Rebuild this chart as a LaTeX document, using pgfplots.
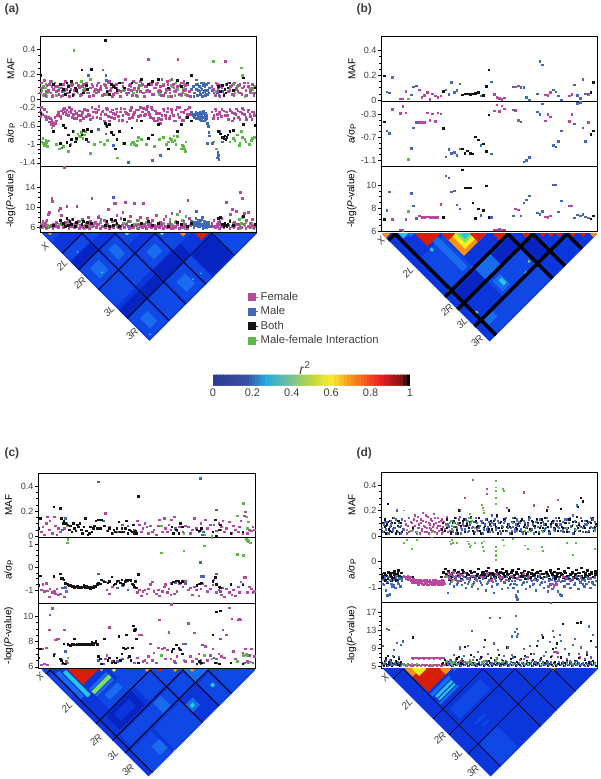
\documentclass[border=0pt]{standalone}
\usepackage{pgfplots}
\pgfplotsset{compat=1.18}
\usepackage{pgfplotstable}
\usepackage{fontspec}
\setmainfont{Liberation Sans}
\definecolor{cF}{HTML}{B5489F}\definecolor{cB}{HTML}{4169B8}\definecolor{cK}{HTML}{141414}\definecolor{cG}{HTML}{5CB947}
\definecolor{h0}{HTML}{0824C0}\definecolor{h1}{HTML}{0A36DC}\definecolor{h2}{HTML}{1048E6}\definecolor{h3}{HTML}{1A6CEE}
\definecolor{h4}{HTML}{25C8E0}\definecolor{h5}{HTML}{80E060}\definecolor{h6}{HTML}{F5EE20}\definecolor{h7}{HTML}{FA9010}\definecolor{h8}{HTML}{D81E05}
\definecolor{tx}{HTML}{404040}
\pgfplotsset{
 pan/.style n args={8}{at={(#1pt,#2pt)},anchor=south west,scale only axis,width=#3pt,height=#4pt,xmin=#5,xmax=#6,ymin=#7,ymax=#8,
  xtick=\empty,ytick pos=left,axis line style={line width=.9pt,black},tick align=outside,major tick length=3pt,minor tick length=1.6pt,
  y tick style={line width=.4pt,black},minor y tick num=3,tick label style={font=\fontsize{9}{9}\selectfont,text=tx},yticklabel style={inner sep=1.5pt},
  label style={font=\fontsize{9.6}{10}\selectfont,text=tx},every axis y label/.style={at={(axis description cs:-0.135,0.5)},rotate=90,anchor=center}},
 heat/.style n args={4}{at={(#1pt,#2pt)},anchor=north west,scale only axis,width=#3pt,height=#4pt,xmin=#1,xmax={#1+#3},ymin=-#4,ymax=0,hide axis},
}
\newcommand\hb[5]{\addplot[fill=#5,draw=none,forget plot] table[row sep=\\,x expr=(\thisrow{s}+\thisrow{t})/2,y expr=(\thisrow{s}-\thisrow{t})/2]{s t\\#1 #3\\#1 #4\\#2 #4\\#2 #3\\#1 #3\\};}
\newcommand\chrom[4]{\addplot[black,line width=#4pt,forget plot] table[row sep=\\,x expr=(\thisrow{s}+\thisrow{t})/2,y expr=(\thisrow{s}-\thisrow{t})/2]{s t\\#1 #1\\#1 #3\\};
\addplot[black,line width=#4pt,forget plot] table[row sep=\\,x expr=(\thisrow{s}+\thisrow{t})/2,y expr=(\thisrow{s}-\thisrow{t})/2]{s t\\#1 #1\\#2 #1\\};}
\newcommand\pts[4]{\addplot[only marks,mark=square*,mark size=#4pt,color=#1,mark options={line width=0pt}] table[x=x,y=#3]{#2};}
\newcommand\four[6]{\pts{cG}{#1}{#5}{#6}\pts{cB}{#2}{#5}{#6}\pts{cF}{#3}{#5}{#6}\pts{cK}{#4}{#5}{#6}}
%%% panel a
\pgfplotstableread{
x m a p
125 .07 -.95 6.4
130 .1 -.98 6.9
133 .04 -1.02 6.2
137 .12 -.92 7.2
141 .05 -1.05 6.5
155 .14 -.65 6.3
168 .03 -1.0 6.2
178 .09 -1.1 6.6
190 .06 -1.05 6.1
205 .11 -1.15 7.1
212 .13 -1.0 6.4
221 .39 -.72 6.6
228 .08 -.9 6.2
233 .05 -.78 6.9
238 .1 -.82 7.3
243 .14 -.75 6.3
248 .07 -.88 7.5
256 .12 -.72 6.5
270 .16 -1.2 6.2
282 .06 -1.0 6.8
300 .09 -.95 7.1
312 .12 -1.0 6.3
322 .04 -.92 6.6
352 .05 -1.3 6.2
370 .07 -.98 6.9
392 .1 -1.0 7.3
400 .05 -.95 6.4
408 .13 -1.03 6.7
415 .08 -.85 7.5
425 .11 -.9 6.2
440 .06 -1.0 7.0
462 .09 -1.05 6.5
478 .04 -.9 6.3
490 .12 -.85 6.9
500 .07 -1.0 6.2
510 .15 -.88 7.6
518 .1 -.95 6.4
525 .03 -.92 7.1
532 .08 -.83 8.7
548 .05 -1.02 7.4
553 .12 -1.1 6.6
558 .07 -.95 8.2
640 .3 -.95 6.2
650 .06 -1.1 6.3
690 .08 -.95 7.4
700 .12 -.88 6.8
712 .1 -.8 6.6
718 .05 -1.02 7.7
727 .19 -.85 8.0
725 .25 -.72 6.9
738 .07 -.95 7.1
748 .09 -1.0 6.3
755 .05 -.92 6.8
763 .1 -.85 6.5
128 .03 -.88 6.0
135 .09 -1.0 6.7
139 .02 -.97 5.9
145 .06 -.93 6.1
240 .03 -.84 6.5
252 .09 -.8 5.9
260 .05 -.9 6.1
395 .03 -.96 6.0
403 .08 -1.0 6.6
412 .02 -.93 5.9
505 .02 -.95 6.1
515 .11 -.9 6.7
522 .06 -.82 5.9
528 .13 -1.0 6.3
545 .03 -1.1 6.0
550 .09 -1.05 6.5
556 .04 -1.15 5.9
705 .05 -.92 6.2
720 .11 -.98 5.9
735 .02 -.9 6.4
758 .08 -.88 6.0
}\atG
\pgfplotstableread{
x m a p
185 .06 -1.08 6.6
265 .19 -.95 6.9
295 .07 -.68 8.1
317 .19 -.78 7.3
318 .15 -.6 7.0
339 .11 -1.03 12
385 .05 -1.4 6.2
457 .04 -1.35 6.3
482 .06 -1.25 6.5
575 .08 -.32 7.3
580 .1 -.38 6.6
584 .05 -.42 7.0
588 .12 -.3 7.8
590 .155 -.35 9.3
592 .03 -.45 7.1
596 .07 -.33 6.2
598 .1 -.4 6.9
602 .04 -.3 7.4
604 .13 -.48 6.4
606 .08 -.36 7.7
608 .02 -.42 8.1
611 .11 -.28 6.7
613 .06 -.5 7.2
615 .1 -.38 6.1
617 .03 -.33 6.5
619 .12 -.44 6.8
622 .07 -.55 6.3
625 .13 -.62 7.0
627 .05 -.75 6.4
628 .09 -.82 6.2
623 .04 -.98 6.6
637 .07 -.98 6.3
654 .12 -1.18 6.4
655 .09 -1.25 6.6
653 .05 -1.3 6.2
657 .03 -1.33 6.8
660 .11 -.72 7.3
668 .06 -.95 6.5
582 .02 -.35 6.0
590 .08 -.44 6.5
594 .12 -.38 7.5
600 .06 -.46 6.2
603 .09 -.36 6.6
609 .05 -.34 5.9
612 .13 -.42 6.3
616 .07 -.47 7.0
620 .04 -.38 6.0
}\atB
\pgfplotstableread{
x m a p
120 .05 -.3 6.1
124 .13 -.2 6.5
128 .09 -.36 7.3
132 .15 -.25 6.2
136 .03 -.4 6.8
140 .11 -.3 7.5
144 .07 -.42 8.7
148 .12 -.52 9.0
152 .05 -.58 6.4
155 .1 -.48 11.9
156 .02 -.55 11.2
160 .08 -.6 6.7
164 .13 -.42 6.3
168 .06 -.5 7.1
172 .1 -.38 6.2
176 .04 -.35 9.4
180 .12 -.4 9.9
184 .09 -.28 8.5
188 .03 -.33 6.6
192 .07 -.22 18
196 .14 -.3 7.0
200 .05 -.26 10.2
204 .1 -.38 7.4
208 .02 -.2 6.4
212 .08 -.32 6.9
216 .12 -.42 7.7
220 .04 -.36 6.3
224 .09 -.28 6.8
230 .06 -.45 10.2
235 .11 -.38 7.2
240 .03 -.48 6.5
246 .1 -.32 7.6
252 .07 -.25 6.2
258 .13 -.4 6.9
264 .05 -.35 8.0
270 .09 -.47 7.3
275 .12 -.2 11.8
280 .03 -.3 6.4
285 .08 -.24 7.0
290 .11 -.42 6.6
296 .06 -.18 8.3
302 .1 -.36 7.7
308 .235 -.28 6.2
312 .04 -.5 7.4
318 .09 -.22 6.8
324 .13 -.4 9.6
330 .07 -.3 6.3
336 .02 -.26 7.2
342 .11 -.45 10.8
345 .05 -.36 10.9
350 .09 -.3 8.4
356 .13 -.48 6.5
362 .06 -.22 7.9
368 .1 -.38 9.1
375 .16 -.3 11.1
380 .04 -.52 6.9
385 .08 -.36 7.3
390 .12 -.27 8.2
396 .03 -.42 6.4
403 .09 -.32 10.8
410 .06 -.48 7.5
416 .11 -.26 6.7
422 .14 -.38 8.0
430 .05 -.22 10.9
436 .1 -.35 6.3
442 .07 -.18 7.8
446 .32 -.3 6.6
450 .13 -.42 6.9
456 .04 -.26 7.4
462 .09 -.5 6.2
468 .12 -.34 8.5
474 .06 -.44 6.7
480 .1 -.55 7.1
486 .16 -.38 6.4
492 .03 -.28 7.6
498 .08 -.45 8.2
504 .12 -.22 6.6
510 .05 -.4 7.0
516 .16 -.32 8.8
522 .09 -.5 6.3
528 .07 -.26 7.3
534 .32 -.36 6.9
540 .11 -.2 9.2
546 .04 -.48 6.5
552 .14 -.32 7.2
558 .08 -.42 6.7
564 .12 -.24 11.4
568 .06 -.2 7.9
572 .02 -.36 6.4
636 .1 -.3 6.8
642 .05 -.38 7.5
648 .13 -.28 6.3
654 .07 -.44 7.0
660 .02 -.33 6.6
666 .09 -.25 7.8
676 .3 -.38 6.5
680 .12 -.3 11
686 .06 -.46 6.4
692 .1 -.28 8.6
698 .04 -.5 9.6
704 .13 -.34 7.1
710 .08 -.24 9.2
716 .11 -.42 6.6
722 .05 -.3 13
728 .09 -.22 11.9
734 .13 -.36 8.8
740 .03 -.46 7.4
746 .1 -.26 9.1
752 .07 -.4 6.9
758 .12 -.3 7.6
764 .05 -.38 6.3
122 .09 -.4 6.6
138 .06 -.47 6.0
150 .14 -.44 6.2
158 .03 -.52 5.9
166 .1 -.55 6.5
174 .07 -.32 6.0
182 .02 -.45 7.0
190 .12 -.25 6.1
198 .08 -.36 6.5
206 .05 -.3 5.9
214 .11 -.25 6.2
222 .07 -.45 6.0
228 .13 -.33 6.7
238 .09 -.28 5.9
244 .04 -.38 6.3
250 .12 -.44 6.0
262 .08 -.27 6.5
268 .02 -.38 5.9
278 .1 -.42 6.2
288 .05 -.32 6.0
294 .13 -.26 6.6
300 .08 -.44 5.9
306 .03 -.3 6.3
316 .11 -.35 6.0
322 .06 -.25 6.5
328 .14 -.5 5.9
334 .09 -.42 6.3
340 .04 -.34 6.0
348 .12 -.24 6.7
354 .07 -.4 6.1
360 .02 -.3 5.9
366 .13 -.48 6.4
372 .08 -.24 6.0
378 .05 -.33 6.6
388 .11 -.44 5.9
394 .07 -.2 6.2
400 .14 -.36 6.0
408 .03 -.26 6.5
414 .09 -.4 5.9
420 .06 -.2 6.2
428 .12 -.3 6.0
434 .02 -.38 6.6
440 .1 -.25 5.9
448 .06 -.35 6.3
454 .12 -.2 6.0
460 .04 -.44 6.5
466 .09 -.28 5.9
472 .13 -.5 6.2
478 .07 -.33 6.0
484 .03 -.46 6.6
490 .11 -.24 5.9
496 .05 -.38 6.2
502 .14 -.3 6.0
508 .08 -.44 6.5
514 .02 -.25 5.9
520 .12 -.38 6.3
526 .06 -.5 6.0
532 .1 -.2 6.6
538 .04 -.42 5.9
544 .13 -.3 6.3
550 .07 -.48 6.0
556 .11 -.26 6.5
562 .03 -.36 5.9
640 .08 -.44 6.2
646 .03 -.24 6.0
652 .12 -.36 6.6
658 .06 -.3 5.9
664 .1 -.4 6.3
672 .04 -.28 6.0
684 .13 -.38 6.5
690 .07 -.24 5.9
696 .11 -.32 6.2
702 .03 -.44 6.0
708 .09 -.36 6.7
714 .06 -.28 5.9
720 .12 -.46 6.3
726 .04 -.34 6.0
732 .1 -.26 6.6
738 .07 -.42 5.9
744 .13 -.3 6.2
750 .05 -.36 6.0
756 .09 -.46 6.5
762 .03 -.32 5.9
}\atF
\pgfplotstableread{
x m a p
122 .19 -.33 6.3
160 .12 -.72 6.5
180 .12 -.98 7.4
190 .08 -.6 6.9
195 .04 -.65 6.2
200 .13 -.96 7.9
205 .1 -.8 6.4
209 .06 -1.02 7.3
213 .14 -.9 6.7
218 .03 -.72 7.6
225 .09 -.95 6.2
229 .07 -.88 7.0
245 .235 -.8 6.6
250 .05 -.7 7.3
258 .11 -.9 6.3
262 .08 -.68 7.1
273 .24 -.72 6.8
315 .47 -.55 6.4
320 .06 -.62 7.3
327 .04 -.58 6.2
333 .12 -.75 7.7
340 .1 -.8 6.5
345 .09 -1.1 7.4
350 .07 -.9 6.8
357 .13 -.72 6.3
372 .09 -.98 7.6
395 .13 -.65 6.4
425 .16 -.5 6.9
445 .12 -.88 7.2
458 .14 -.8 6.5
474 .16 -.58 6.8
505 .09 -1.1 6.3
533 .15 -.72 7.0
545 .1 -.57 6.6
575 .19 -.5 6.8
563 .13 -.42 6.3
655 .1 -.72 7.9
662 .06 -.78 8.0
668 .11 -.86 6.6
672 .03 -.88 6.3
675 .08 -.82 6.8
678 .05 -.9 6.5
681 .12 -.85 6.2
684 .09 -.8 6.7
690 .13 -.72 7.3
700 .07 -.7 6.4
730 .17 -.57 8.3
765 .09 -.6 6.6
}\atK
%%% panel b
\pgfplotstableread{
x m a p
326 .01 -1.09 7.7
}\btG
\pgfplotstableread{
x m a p
261 .065 -.6 7.8
268 .055 -.64 9.4
334 .04 -.9 9.25
341 .107 -.54 8.2
350 .115 -.445 7.1
438 .08 -1.05 10.75
447 .045 -.92 10.6
455 .14 -.99 9.4
471 .075 -1.02 8.25
463 .06 -.97 9.5
480 .13 -.91 7.9
543 .03 -.85 7.35
574 .145 -1.0 7.2
640 .107 -.23 7.3
663 .1 -.44 7.3
672 .1 -1.13 8.45
680 .02 -1.11 8.7
688 .0 -1.06 9.05
713 .05 -.27 7.6
720 .31 -.31 7.45
728 .28 -.13 7.7
760 .083 -.85 10
768 .065 -.87 10
776 .03 -.78 7.65
784 .0 -.6 8.6
824 .12 -.47 7.15
832 .035 -.12 7.4
841 .013 -.1 7.3
849 .165 -.54 7.45
857 .05 -.78 7.25
}\btB
\pgfplotstableread{
x m a p
277 .18 -.225 7.0
301 .01 -.29 6.1
309 .01 -.17 6.08
318 .067 -.28 7.0
358 .083 -.445 7.3
366 .02 -.445 7.2
374 .035 -.445 7.2
382 .06 -.28 7.25
390 .005 -.41 7.2
398 .05 -.3 7.2
406 .03 -.43 7.2
414 .02 -.28 7.2
423 .03 -.3 8.3
583 .043 -.25 6.1
591 .02 -.14 6.1
599 .013 -.26 6.15
606 .005 -.16 6.1
614 .016 -.21 6.12
647 .104 -.24 7.9
655 .115 -.415 7.85
736 .04 -.42 7.25
744 .037 -.31 7.2
752 .06 -.35 7.3
809 .03 -.43 8.2
816 .043 -.31 8.2
865 .045 -.45 7.15
}\btF
\pgfplotstableread{
x m a p
253 .195 -.44 7.03
430 .067 -.55 7.2
487 .04 -.91 11.3
495 .05 -.99 9.75
503 .05 -.94 9.75
511 .043 -.99 9.75
519 .05 -1.0 8.45
527 .053 -.7 7.1
535 .06 -.75 7.9
551 .035 -.82 7.8
559 .11 -.95 9.9
567 .24 -.32 7.2
873 .06 -.66 7.05
881 .14 -.6 7.3
}\btK
%%% panel c
\pgfplotstableread{
x m a p
205 .09 1.2 6.7
203 .08 1.05 6.3
485 .08 .6 6.9
553 .02 .7 6.5
614 .01 .9 6.9
637 .0 1.25 6.6
713 .16 .55 6.4
732 .26 .5 6.9
741 .15 1.2 6.95
744 .06 1.15 6.9
747 .11 1.1 6.3
752 .04 1.05 6.35
}\ctG
\pgfplotstableread{
x m a p
188 .05 -.9 6.2
198 .14 -.88 7.2
297 .43 -.3 6.5
312 .12 -.6 6.2
354 .03 -.9 6.4
368 .09 -.8 6.6
385 .08 -.98 6.7
528 .06 -.68 6.3
558 .08 -.7 7.8
603 .46 .2 6.3
604 .05 -.4 6.2
608 .01 -.72 7.7
612 .03 -.4 6.3
650 .21 -.3 6.3
643 .09 -.55 6.7
662 .05 -1.05 8.2
}\ctB
\pgfplotstableread{
x m a p
125 .03 -1.0 6.15
130 .07 -.75 7.4
135 .01 -1.05 6.2
140 .1 -.7 7.5
144 .15 -1.02 6.15
150 .05 -1.3 8.9
151 .12 -.95 10.1
158 .02 -1.1 10.6
164 .15 -1.05 7.0
168 .08 -1.15 8.1
172 .01 -.95 8.15
177 .06 -1.2 8.2
182 .03 -1.15 6.6
195 .06 -1.3 8.9
200 .1 -1.05 6.4
318 .18 -.65 6.6
322 .04 -1.0 6.9
330 .07 -1.15 9.1
338 .02 -.85 6.4
405 .05 -.9 6.3
414 .12 -1.1 6.7
420 .09 -1.0 8.5
425 .03 -1.25 8.5
430 .06 -1.05 6.4
436 .1 -1.0 6.5
442 .07 -1.15 6.3
447 .02 -.95 6.8
452 .08 -.75 7.8
458 .03 -.65 6.5
463 .05 -1.05 7.1
470 .01 -1.15 6.3
476 .08 -1.0 7.5
480 .13 -1.25 9.7
488 .03 -1.05 7.4
494 .14 -.85 7.5
498 .06 -.75 6.6
503 .03 -1.1 7.3
508 .09 -.95 8.7
514 .05 -1.2 6.6
516 .13 -.7 10.9
524 .15 -1.15 6.4
532 .04 -1.05 6.8
540 .07 -.7 7.4
550 .03 -.85 7.8
558 .08 -.6 6.4
566 .07 -1.0 9.4
572 .02 -.9 6.8
578 .05 -1.2 6.4
585 .14 -.85 8.65
590 .06 -1.0 6.6
598 .03 -1.25 7.0
604 .1 -.95 6.5
618 .13 -.82 7.6
624 .06 -1.05 6.5
632 .09 -.95 6.9
640 .03 -.78 7.4
650 .04 -1.1 6.6
658 .1 -1.0 7.0
665 .07 -1.2 6.8
670 .12 -.9 8.9
675 .03 -1.3 6.7
680 .06 -.95 8.5
690 .11 -1.1 10.65
697 .02 -1.2 9.75
702 .08 -1.0 7.2
708 .05 -1.25 6.6
716 .03 -.85 9.7
720 .07 -1.1 9.75
724 .12 -.65 9.7
730 .02 -.75 7.1
735 .16 -.45 6.3
738 .19 -.45 7.4
744 .02 -1.1 6.4
750 .05 -.85 6.9
756 .04 -.95 7.4
760 .07 -1.1 6.3
764 .05 -1.05 6.8
}\ctF
\pgfplotstableread{
x m a p
118 .06 -.8 6.7
122 .14 -.38 7.4
163 .23 -.4 6.9
183 .22 -.3 6.6
185 .14 -.5 6.5
190 .1 -.5 6.3
193 .12 -.55 7.8
198 .1 -.7 6.2
205 .09 -.75 7.75
209 .05 -.82 7.7
213 .08 -.8 7.65
217 .03 -.85 7.8
221 .1 -.82 7.75
225 .06 -.88 8.2
229 .04 -.85 7.7
233 .09 -.82 7.75
237 .07 -.88 7.8
241 .1 -.86 7.7
245 .05 -.9 7.75
249 .02 -.85 7.8
253 .07 -.8 7.7
257 .14 -.88 7.8
261 .04 -.82 7.75
265 .01 -.9 7.7
269 .02 -.86 7.8
273 .07 -.92 7.75
277 .03 -.85 7.9
281 .06 -.9 7.7
285 .08 -.82 7.85
289 .12 -.85 8.0
293 .06 -.75 7.75
297 .13 -.7 6.8
303 .06 -.72 6.6
306 .13 -.55 6.2
314 .08 -.65 8.2
325 .04 -.68 6.5
330 .06 -.62 6.7
337 .02 -.42 6.3
343 .05 -.78 6.4
348 .03 -.72 6.3
352 .06 -.62 6.7
358 .11 -.6 8.4
362 .03 -.68 6.5
367 .06 -.55 7.0
372 .03 -.75 7.5
377 .06 -.62 7.4
381 .12 -.58 8.5
385 .02 -.6 7.5
390 .05 -.55 6.8
394 .04 -.58 6.5
398 .03 -.72 7.5
402 .09 -.78 9.2
405 .02 -.85 8.85
408 .04 -.62 8.95
411 .02 -.9 8.2
416 .315 -.32 6.3
517 .07 -.7 7.2
522 .02 -.65 7.4
530 .05 -.6 7.7
538 .02 -.62 7.5
543 .1 -.68 7.3
548 .07 -.62 7.0
592 .05 -.8 6.2
600 .04 -.72 6.4
605 .06 -.68 6.3
640 .03 -.62 8.5
647 .13 -.45 6.3
650 .0 -.75 10.3
663 .09 -.9 10.4
660 .05 -.85 6.2
694 .02 -.75 6.3
730 .03 -.78 6.2
}\ctK
%%% panel d
\pgfplotstableread{
x m a p
312 .2 .7 5.5
322 .05 .8 5.4
335 .04 .45 5.6
350 .03 .8 5.5
395 .03 .9 5.4
450 .1 .75 6
452 .12 .65 5.8
455 .08 .8 5.6
458 .05 .7 5.7
470 .09 .7 5.5
505 .12 .75 6
508 .14 .65 5.8
510 .17 .55 6.5
512 .1 .6 6.1
525 .06 .7 5.7
547 .24 .7 5.8
549 .22 .55 6
551 .2 .4 6.2
553 .18 .75 5.9
587 .43 .55 7
589 .38 .4 6.5
587 .35 .2 6
589 .3 .25 6
588 .25 .05 5.9
610 .37 .8 6
612 .35 .6 6
640 .1 .85 5.5
675 .04 .6 5.5
685 .03 .45 5.5
727 .04 .55 5.4
728 .03 .4 5.6
800 .06 .7 5.5
820 .09 .25 5.6
828 .05 .7 5.5
885 .04 .45 5.6
440 .08 -.6 6.3
455 .05 -.8 5.4
462 .1 -.7 6.0
515 .12 -.9 5.6
}\dtG
\pgfplotstableread{
x m a p
248 .03 -.7 9.5
252 .09 -.9 5.6
258 .05 -1.1 6.2
262 .11 -1.3 13.3
266 .02 -.6 13
270 .07 -1.25 6.4
274 .12 -.85 5.4
278 .04 -.95 7.3
282 .14 -.7 8.7
286 .06 -1.0 5.8
290 .2 -.55 10.2
294 .03 -.8 6.1
298 .1 -.65 7.2
302 .08 -.95 9.8
306 .13 -.75 5.6
310 .05 -.6 10.5
444 .09 -1.2 5.7
450 .04 -.85 6.4
456 .12 -.7 5.9
462 .07 -.95 7.6
468 .02 -.65 6.2
474 .1 -.8 5.5
480 .15 -.75 8.8
486 .05 -.9 6.7
492 .08 -.6 7.4
498 .13 -1.0 5.8
504 .03 -.85 9.6
510 .09 -.7 6.1
516 .06 -.95 12.9
522 .11 -.8 7.2
528 .14 -.65 5.6
534 .04 -1.05 8.3
540 .08 -.75 6.6
546 .1 -.9 5.9
552 .05 -.6 9.4
558 .13 -1.1 6.3
564 .07 -.8 7.8
570 .03 -.7 15.7
576 .16 -.95 5.7
582 .09 -1.2 10.1
588 .05 -.75 6.5
594 .12 -.85 8.6
600 .04 -.65 15.6
606 .08 -1.05 5.8
612 .1 -.8 7.3
618 .14 -.7 6.2
624 .06 -1.0 9.2
630 .02 -.9 5.6
636 .11 -.75 11.6
640 .07 -1.0 7.0
644 .05 -.85 12.6
648 .09 -1.3 16.2
650 .13 -1.35 13.2
652 .04 -1.45 11.6
654 .08 -1.15 12.2
660 .1 -.7 6.4
666 .03 -.9 5.8
672 .12 -.8 8.9
678 .06 -1.05 7.1
684 .09 -.65 5.7
690 .14 -.95 9.5
696 .05 -.75 6.3
702 .02 -.85 7.7
708 .11 -1.1 5.9
714 .07 -.7 10.7
720 .13 -.9 6.5
726 .04 -.8 12
732 .09 -1.0 7.4
738 .06 -.6 8.3
744 .12 -1.15 6.0
750 .03 -.85 10.4
754 .08 -.7 18.9
758 .1 -1.05 12.8
762 .05 -.9 11.5
768 .14 -.8 9.1
774 .07 -1.15 7.2
780 .09 -1.25 12
784 .04 -1.3 10.6
788 .11 -.75 5.8
794 .06 -.95 8.9
800 .13 -.65 6.7
806 .03 -.85 7.5
812 .08 -1.0 5.9
818 .16 -.7 9.7
824 .05 -.9 11
830 .24 -.6 6.3
836 .1 -1.05 7.8
842 .07 -.8 9.2
848 .03 -.7 5.7
854 .12 -.95 6.6
860 .09 -.85 8.1
866 .04 -.65 13.8
872 .14 -1.0 7.0
878 .06 -.8 11.9
884 .11 -.9 5.6
888 .08 -.75 9.3
247 .06 -.85 5.3
255 .11 -.62 5.7
263 .02 -.78 5.2
272 .09 -.7 5.9
280 .05 -.92 5.4
288 .13 -.62 5.3
296 .07 -.85 5.8
304 .02 -.68 5.2
447 .07 -.62 5.3
453 .12 -.78 5.6
459 .03 -.55 5.2
465 .1 -.7 5.9
471 .06 -.88 5.3
477 .13 -.6 5.6
483 .02 -.72 5.2
489 .09 -.55 6.0
495 .05 -.82 5.4
501 .11 -.65 5.7
507 .04 -.78 5.2
513 .14 -.58 5.9
519 .07 -.88 5.3
525 .03 -.62 5.6
531 .1 -.75 5.2
537 .06 -.55 6.1
543 .12 -.82 5.4
549 .02 -.68 5.7
555 .09 -.6 5.3
561 .05 -.85 5.9
567 .11 -.72 5.2
573 .08 -.58 5.6
579 .03 -.78 5.3
585 .13 -.65 6.0
591 .06 -.88 5.4
597 .1 -.55 5.7
603 .02 -.75 5.2
609 .07 -.62 5.9
615 .12 -.8 5.3
621 .04 -.58 5.6
627 .09 -.72 5.2
633 .06 -.85 6.0
639 .14 -.62 5.4
645 .03 -.75 5.7
651 .08 -.9 5.3
657 .11 -.58 5.8
663 .05 -.7 5.2
669 .02 -.82 5.6
675 .1 -.6 5.3
681 .07 -.78 6.0
687 .13 -.55 5.4
693 .04 -.7 5.7
699 .09 -.88 5.2
705 .06 -.62 5.8
711 .12 -.75 5.3
717 .03 -.58 5.6
723 .08 -.82 5.2
729 .11 -.65 6.1
735 .05 -.78 5.4
741 .14 -.58 5.7
747 .02 -.72 5.3
753 .07 -.9 5.9
759 .1 -.62 5.2
765 .04 -.75 5.6
771 .12 -.88 5.3
777 .06 -.65 6.0
783 .09 -.78 5.4
789 .03 -.58 5.7
795 .13 -.72 5.2
801 .05 -.85 5.9
807 .1 -.6 5.3
813 .07 -.75 5.6
819 .02 -.65 5.2
825 .12 -.82 6.0
831 .08 -.58 5.4
837 .04 -.7 5.7
843 .14 -.62 5.3
849 .06 -.88 5.8
855 .09 -.72 5.2
861 .03 -.6 5.6
867 .11 -.78 5.3
873 .07 -.65 5.9
879 .13 -.85 5.4
885 .05 -.62 5.7
}\dtB
\pgfplotstableread{
x m a p
312 .05 -.55 5.3
316 .12 -.6 5.4
320 .02 -.62 5.2
324 .08 -.58 5.5
328 .14 -.65 5.3
332 .04 -.6 5.2
336 .1 -.7 6.9
340 .07 -.68 6.8
344 .16 -.72 6.9
348 .03 -.75 6.85
350 .12 -.8 5.3
353 .06 -.72 6.9
356 .09 -.85 6.8
359 .02 -.7 6.95
362 .13 -.78 5.2
365 .05 -.82 6.85
368 .18 -.75 6.9
371 .08 -.88 6.8
374 .03 -.72 5.4
377 .11 -.8 6.9
380 .06 -.85 6.85
383 .15 -.76 6.95
386 .02 -.9 6.8
389 .09 -.74 6.9
392 .05 -.84 5.2
395 .12 -.78 6.85
398 .07 -.88 6.9
401 .17 -.73 6.8
404 .03 -.82 6.95
407 .1 -.76 5.3
410 .06 -.86 6.9
413 .14 -.8 6.85
416 .04 -.74 6.9
419 .08 -.88 6.8
422 .12 -.78 6.95
425 .02 -.84 5.2
428 .07 -.72 6.9
431 .11 -.8 6.85
434 .05 -.85 5.4
437 .09 -.6 5.9
440 .15 -.55 6.2
444 .03 -.45 5.5
448 .08 -.65 5.8
452 .12 -.5 6.4
456 .05 -.7 5.4
460 .1 -.42 6.1
464 .07 -.6 5.7
468 .14 -.55 6.6
472 .03 -.75 5.5
476 .09 -.48 5.9
480 .2 -.58 9.3
484 .06 -.52 6.3
488 .11 -.7 5.6
495 .3 -.45 6.0
505 .08 -.65 5.8
520 .44 -.55 6.5
530 .05 -.7 5.5
545 .12 -.6 7.2
561 .37 -.5 6.2
562 .33 -.45 5.7
575 .1 -.72 5.6
590 .15 -.5 6.8
605 .07 -.62 6.4
620 .22 -.7 5.9
635 .04 -.55 7.5
652 .12 -.65 6.0
671 .34 -.48 6.7
685 .08 -.6 7.1
703 .24 -.7 5.8
720 .06 -.5 6.2
745 .23 -.95 5.7
757 .1 -.85 7.3
762 .12 -.95 8.3
766 .06 -.9 8.2
770 .09 -.88 8.1
775 .28 -.75 8.0
790 .05 -.6 5.9
810 .14 -.72 6.3
840 .08 -.55 7.0
870 .11 -.65 6.1
318 .09 -.66 5.2
326 .03 -.7 5.4
334 .11 -.72 5.3
338 .05 -.8 5.2
342 .13 -.74 5.4
346 .08 -.82 5.3
351 .02 -.7 5.2
355 .15 -.88 5.4
358 .06 -.76 5.3
363 .1 -.7 5.2
367 .04 -.86 5.4
370 .12 -.74 5.3
375 .07 -.84 5.2
379 .16 -.72 5.4
382 .03 -.9 5.3
387 .1 -.78 5.2
390 .06 -.7 5.4
394 .13 -.86 5.3
399 .04 -.76 5.2
403 .09 -.88 5.4
406 .14 -.72 5.3
411 .02 -.82 5.2
415 .08 -.9 5.4
418 .11 -.74 5.3
423 .05 -.8 5.2
427 .13 -.88 5.4
430 .03 -.74 5.3
}\dtF
\pgfplotstableread{
x m a p
246 .04 -.5 5.8
250 .1 -.65 5.3
254 .07 -.45 6.3
256 .13 -.72 5.6
259 .02 -.55 6.8
262 .09 -.8 5.2
265 .25 -.42 7.4
268 .05 -.6 5.9
271 .12 -.5 5.4
274 .08 -.75 6.5
277 .03 -.45 5.7
280 .14 -.65 5.3
283 .06 -.38 7.1
286 .1 -.58 5.5
289 .13 -.48 6.2
292 .04 -.7 5.8
295 .08 -.35 5.4
298 .12 -.55 6.6
301 .02 -.62 5.3
304 .1 -.44 5.9
338 .06 -.6 11.4
425 .05 -.6 5.5
430 .1 -.42 5.8
436 .04 -.3 6.4
440 .13 -.5 5.6
446 .07 -.38 6.1
452 .02 -.62 5.4
458 .1 -.45 5.9
464 .14 -.35 5.6
470 .05 -.55 6.8
476 .2 -.42 7.2
482 .08 -.5 5.7
488 .12 -.32 6.3
494 .03 -.6 9.4
500 .09 -.44 5.5
506 .06 -.52 6.1
512 .15 -.36 7.6
518 .04 -.58 5.8
524 .11 -.4 5.4
530 .07 -.55 6.5
536 .14 -.3 5.9
542 .02 -.6 7.0
548 .1 -.42 5.6
554 .08 -.5 10.9
560 .13 -.36 5.7
566 .05 -.25 6.2
572 .12 -.52 6.9
578 .03 -.44 5.5
584 .09 -.6 6.4
590 .16 -.35 5.8
596 .06 -.5 7.5
602 .11 -.42 5.6
608 .04 -.3 6.3
614 .13 -.55 5.9
620 .07 -.38 9.2
626 .2 -.48 5.4
632 .02 -.6 6.7
638 .1 -.35 5.7
644 .14 -.52 7.1
650 .05 -.42 6.0
656 .08 -.3 5.5
662 .12 -.58 6.6
668 .03 -.46 5.8
674 .09 -.36 7.4
680 .06 -.55 6.2
686 .15 -.4 5.6
692 .04 -.62 7.8
698 .11 -.32 6.4
704 .08 -.5 5.9
710 .13 -.44 9.6
716 .02 -.58 5.5
722 .1 -.36 6.8
728 .06 -.48 11.4
734 .14 -.6 5.7
740 .2 -.42 6.2
746 .04 -.55 5.4
752 .09 -.35 7.2
758 .12 -.5 8.9
764 .05 -.4 6.1
770 .08 -.58 10.1
776 .14 -.3 5.6
782 .21 -.45 7.0
788 .06 -.52 14.3
794 .1 -.38 5.8
800 .03 -.6 6.5
806 .13 -.25 7.7
812 .07 -.5 5.5
818 .11 -.42 9.8
824 .04 -.62 6.2
830 .15 -.32 14.5
834 .23 -.45 14.6
838 .09 -.55 6.9
844 .3 -.25 14.7
850 .27 -.4 5.7
856 .06 -.58 6.4
862 .12 -.35 7.6
868 .03 -.5 5.9
874 .1 -.42 10.6
880 .14 -.6 6.3
886 .07 -.38 5.5
251 .03 -.58 5.2
257 .08 -.52 5.5
264 .11 -.68 5.3
270 .04 -.44 5.7
276 .1 -.62 5.2
282 .06 -.5 5.6
288 .02 -.72 5.3
294 .12 -.46 5.8
300 .07 -.56 5.2
306 .03 -.68 5.5
442 .06 -.55 5.3
449 .1 -.7 5.6
455 .03 -.48 5.2
461 .12 -.6 5.5
467 .07 -.66 5.3
473 .02 -.44 5.8
479 .1 -.56 5.2
485 .05 -.68 5.6
491 .13 -.42 5.3
497 .08 -.6 5.7
503 .03 -.5 5.2
509 .11 -.66 5.5
515 .06 -.44 5.3
521 .02 -.58 5.8
527 .12 -.66 5.2
533 .08 -.48 5.6
539 .04 -.62 5.3
545 .1 -.52 5.7
551 .06 -.42 5.2
557 .13 -.64 5.5
563 .03 -.55 5.3
569 .09 -.46 5.8
575 .05 -.66 5.2
581 .12 -.5 5.6
587 .07 -.62 5.3
593 .02 -.44 5.7
599 .1 -.58 5.2
605 .06 -.68 5.5
611 .13 -.46 5.3
617 .04 -.6 5.8
623 .09 -.5 5.2
629 .07 -.66 5.6
635 .02 -.42 5.3
641 .11 -.56 5.7
647 .06 -.64 5.2
653 .09 -.48 5.5
659 .04 -.6 5.3
665 .13 -.44 5.8
671 .07 -.58 5.2
677 .02 -.68 5.6
683 .1 -.5 5.3
689 .05 -.62 5.7
695 .12 -.46 5.2
701 .08 -.56 5.5
707 .03 -.66 5.3
713 .1 -.42 5.8
719 .06 -.58 5.2
725 .13 -.64 5.6
731 .04 -.48 5.3
737 .09 -.6 5.7
743 .07 -.5 5.2
749 .02 -.66 5.5
755 .11 -.44 5.3
761 .06 -.58 5.8
767 .09 -.68 5.2
773 .04 -.46 5.6
779 .12 -.6 5.3
785 .07 -.5 5.7
791 .03 -.64 5.2
797 .1 -.44 5.5
803 .06 -.56 5.3
809 .13 -.66 5.8
815 .08 -.48 5.2
821 .02 -.6 5.6
827 .11 -.5 5.3
833 .06 -.68 5.7
839 .04 -.44 5.2
845 .12 -.58 5.5
851 .08 -.64 5.3
857 .03 -.46 5.8
863 .1 -.56 5.2
869 .06 -.66 5.6
875 .13 -.48 5.3
881 .04 -.6 5.7
887 .09 -.5 5.2
}\dtK
\pgfplotsset{colormap={rb}{rgb255(0)=(43,57,144); rgb255(18)=(58,83,164); rgb255(27)=(39,170,225); rgb255(40)=(120,195,150); rgb255(50)=(190,215,60); rgb255(60)=(249,237,50); rgb255(70)=(247,148,29); rgb255(85)=(237,32,36); rgb255(97)=(120,20,22); rgb255(98)=(20,10,10); rgb255(100)=(0,0,0)}}
\begin{document}
\begin{tikzpicture}[x=1pt,y=1pt]
\useasboundingbox (0,0) rectangle (600,779);
\def\asig{a/σ\raisebox{-1.5pt}{\fontsize{8}{8}\selectfont P}}
\def\lp{-log(\textit{P}-value)}
%% a
\begin{axis}[pan={40}{678}{216}{65}{119}{768}{-.014}{.507},ytick={0,.2,.4},yticklabels={0,0.2,0.4},ylabel={MAF}]\four{\atG}{\atB}{\atF}{\atK}{m}{.85}\end{axis}
\begin{axis}[pan={40}{613}{216}{65}{119}{768}{-1.47}{-.064},ytick={-1.4,-1,-.6,-.2},yticklabels={-1.4,-1,-0.6,-0.2},ylabel={\asig}]\four{\atG}{\atB}{\atF}{\atK}{a}{.85}\end{axis}
\begin{axis}[pan={40}{547}{216}{66}{119}{768}{5.14}{18.34},ytick={6,10,14},yticklabels={6,10,14},ylabel={\lp}]\four{\atG}{\atB}{\atF}{\atK}{p}{.85}\end{axis}
%% b
\begin{axis}[pan={381}{677.5}{216}{65}{243}{891}{-.012}{.512},ytick={0,.2,.4},yticklabels={0,0.2,0.4},ylabel={MAF}]\four{\btG}{\btB}{\btF}{\btK}{m}{.7}\end{axis}
\begin{axis}[pan={381}{612.5}{216}{65}{243}{891}{-1.213}{-.083},ytick={-1.1,-.7,-.3},yticklabels={-1.1,-0.7,-0.3},ylabel={\asig}]\four{\btG}{\btB}{\btF}{\btK}{a}{.7}\end{axis}
\begin{axis}[pan={381}{547.5}{216}{65}{243}{891}{5.98}{11.59},ytick={6,8,10},yticklabels={6,8,10},ylabel={\lp}]\four{\btG}{\btB}{\btF}{\btK}{p}{.7}\end{axis}
%% c
\begin{axis}[pan={38}{242}{217}{64}{115}{766}{-.008}{.504},ytick={0,.2,.4},yticklabels={0,0.2,0.4},ylabel={MAF}]\four{\ctG}{\ctB}{\ctF}{\ctK}{m}{.7}\end{axis}
\begin{axis}[pan={38}{176}{217}{66}{115}{766}{-1.55}{1.3},ytick={-1,0,1},yticklabels={-1,0,1},ylabel={\asig}]\four{\ctG}{\ctB}{\ctF}{\ctK}{a}{.7}\end{axis}
\begin{axis}[pan={38}{111}{217}{65}{115}{766}{5.9}{11.03},ytick={6,8,10},yticklabels={6,8,10},ylabel={\lp}]\four{\ctG}{\ctB}{\ctF}{\ctK}{p}{.7}\end{axis}
%% d
\begin{axis}[pan={381}{242}{216}{65}{243}{891}{-.008}{.502},ytick={0,.2,.4},yticklabels={0,0.2,0.4},ylabel={MAF}]\pts{cF}{\dtF}{m}{.65}\pts{cK}{\dtK}{m}{.65}\pts{cB}{\dtB}{m}{.65}\pts{cG}{\dtG}{m}{.45}\end{axis}
\begin{axis}[pan={381}{177}{216}{65}{243}{891}{-1.54}{.92},ytick={-1,0},yticklabels={-1,0},ylabel={\asig}]\pts{cK}{\dtK}{a}{.7}\pts{cB}{\dtB}{a}{.7}\pts{cF}{\dtF}{a}{.7}\pts{cG}{\dtG}{a}{.45}\end{axis}
\begin{axis}[pan={381}{111}{216}{66}{243}{891}{4.7}{19.2},ytick={5,9,13,17},yticklabels={5,9,13,17},ylabel={\lp}]\pts{cF}{\dtF}{p}{.6}\pts{cK}{\dtK}{p}{.6}\pts{cB}{\dtB}{p}{.6}\pts{cG}{\dtG}{p}{.45}\end{axis}
%% heat a
\begin{axis}[heat={42}{545.5}{215}{107.5}]
\hb{42}{257}{42}{257}{h1}
\hb{170}{210}{213}{255}{h0}\hb{115}{170}{190}{212}{h0}\hb{42}{115}{196}{212}{h0}\hb{42}{82}{100}{115}{h0}
\hb{84}{113}{118}{153}{h2}\hb{118}{153}{157}{188}{h2}\hb{44}{80}{117}{153}{h2}\hb{44}{80}{84}{98}{h2}\hb{44}{80}{157}{190}{h2}
\hb{84}{113}{214}{255}{h2}\hb{44}{80}{214}{255}{h2}\hb{118}{153}{214}{255}{h2}\hb{157}{168}{214}{255}{h2}\hb{84}{113}{157}{188}{h2}
\hb{55}{72}{125}{145}{h3}\hb{92}{105}{125}{145}{h3}\hb{128}{145}{165}{180}{h3}\hb{128}{145}{225}{245}{h3}\hb{55}{70}{225}{245}{h3}
\hb{58}{60}{95}{97}{h4}\hb{62}{64}{140}{142}{h4}\hb{48}{50}{250}{252}{h4}\hb{146}{148}{238}{240}{h4}\hb{160}{162}{240}{242}{h4}
\hb{42}{60}{42}{60}{h2}\hb{84}{100}{84}{100}{h2}\hb{117}{140}{117}{140}{h2}\hb{214}{255}{214}{255}{h2}\hb{157}{190}{157}{190}{h2}
\hb{195}{208}{195}{208}{h8}\hb{180}{186}{180}{186}{h7}\hb{48}{52}{48}{52}{h7}\hb{125}{129}{125}{129}{h5}\hb{160}{164}{160}{164}{h5}
\chrom{82}{42}{257}{.7}\chrom{115}{42}{257}{.7}\chrom{155}{42}{257}{.7}\chrom{212}{42}{257}{.7}
\end{axis}
%% heat b
\begin{axis}[heat={382}{545}{215}{107.5}]
\hb{382}{597}{382}{597}{h1}
\hb{398}{506}{512}{530}{h0}\hb{510}{531}{536}{565}{h0}
\hb{398}{440}{445}{505}{h2}\hb{440}{506}{536}{565}{h2}\hb{398}{506}{570}{595}{h2}\hb{440}{470}{510}{531}{h3}
\hb{398}{415}{570}{580}{h3}\hb{445}{460}{540}{560}{h3}\hb{452}{458}{545}{555}{h4}\hb{425}{435}{440}{500}{h3}
\hb{414}{418}{445}{450}{h4}\hb{436}{440}{505}{510}{h4}\hb{390}{394}{505}{509}{h5}\hb{485}{489}{563}{567}{h4}\hb{395}{400}{553}{557}{h5}\hb{500}{503}{555}{558}{h5}
\hb{415}{440}{415}{440}{h8}
\hb{442}{486}{442}{486}{h7}\hb{450}{480}{450}{480}{h6}\hb{456}{474}{456}{474}{h5}\hb{460}{470}{460}{470}{h4}\hb{470}{486}{470}{486}{h8}\hb{442}{455}{442}{455}{h8}
\hb{493}{507}{493}{507}{h8}\hb{382}{390}{382}{390}{h7}\hb{399}{408}{399}{408}{h4}\hb{408}{414}{408}{414}{h3}
\hb{522}{530}{522}{530}{h8}\hb{540}{546}{540}{546}{h8}\hb{548}{554}{548}{554}{h8}\hb{556}{562}{556}{562}{h8}\hb{570}{576}{570}{576}{h8}\hb{580}{586}{580}{586}{h8}\hb{590}{597}{590}{597}{h7}
\chrom{395}{382}{597}{3.2}\chrom{508}{382}{597}{3.2}\chrom{533}{382}{597}{3.2}\chrom{567}{382}{597}{3.2}
\end{axis}
%% heat c
\begin{axis}[heat={42}{109}{213}{107}]
\hb{42}{255}{42}{255}{h1}
\hb{60}{66}{66}{115}{h4}\hb{52}{58}{60}{110}{h3}\hb{44}{50}{55}{100}{h2}
\hb{70}{104}{113}{119}{h5}\hb{70}{104}{108}{112}{h3}\hb{70}{104}{120}{124}{h3}\hb{70}{145}{126}{148}{h2}\hb{80}{105}{130}{140}{h3}
\hb{60}{110}{152}{180}{h0}\hb{70}{100}{158}{172}{h1}\hb{118}{148}{152}{180}{h2}\hb{55}{148}{186}{206}{h2}\hb{50}{90}{212}{255}{h2}\hb{95}{148}{212}{255}{h2}
\hb{150}{165}{220}{235}{h3}\hb{154}{160}{225}{230}{h4}\hb{75}{90}{228}{245}{h3}\hb{120}{135}{186}{206}{h3}\hb{152}{180}{186}{206}{h2}\hb{185}{205}{212}{255}{h2}\hb{195}{200}{225}{230}{h4}
\hb{110}{150}{110}{150}{h2}\hb{150}{183}{150}{183}{h2}\hb{183}{208}{183}{208}{h3}\hb{208}{255}{208}{255}{h2}\hb{42}{50}{42}{50}{h2}
\hb{68}{98}{68}{98}{h8}\hb{100}{103}{100}{103}{h7}\hb{145}{150}{145}{150}{h7}\hb{173}{177}{173}{177}{h7}\hb{112}{116}{112}{116}{h6}\hb{157}{162}{157}{162}{h8}\hb{190}{194}{190}{194}{h7}
\chrom{50}{42}{255}{.8}\chrom{150}{42}{255}{.8}\chrom{183}{42}{255}{.8}\chrom{208}{42}{255}{.8}
\end{axis}
%% heat d
\begin{axis}[heat={383}{110}{215}{107.5}]
\hb{383}{598}{383}{598}{h1}
\hb{420}{440}{528}{532}{h2}\hb{425}{438}{538}{541}{h2}\hb{410}{470}{490}{510}{h2}\hb{405}{440}{555}{596}{h2}
\hb{405}{442}{455}{460}{h3}\hb{408}{440}{462}{466}{h4}\hb{408}{440}{468}{471}{h4}\hb{405}{442}{473}{476}{h3}
\hb{405}{451}{405}{451}{h8}\hb{405}{420}{405}{420}{h7}\hb{412}{426}{412}{426}{h6}\hb{440}{451}{440}{451}{h7}\hb{452}{456}{452}{456}{h3}\hb{551}{555}{551}{555}{h7}
\chrom{403}{383}{598}{.7}\chrom{483}{383}{598}{.7}\chrom{515}{383}{598}{.7}\chrom{553}{383}{598}{.7}
\end{axis}
%% legend
\begin{axis}[at={(247.5pt,434pt)},anchor=south west,scale only axis,width=140pt,height=55pt,hide axis,xmin=0,xmax=1,ymin=0,ymax=1,
 legend style={at={(0,1)},anchor=north west,draw=none,fill=none,font=\fontsize{11.3}{11.3}\selectfont,text=tx,row sep=.8pt,inner sep=0pt},legend cell align=left,
 legend image code/.code={\fill[#1] (0pt,-3.5pt) rectangle (7pt,3.5pt);\path (0pt,0pt) -- (10.5pt,0pt);}]
\addlegendimage{cF}\addlegendentry{Female}
\addlegendimage{cB}\addlegendentry{Male}
\addlegendimage{cK}\addlegendentry{Both}
\addlegendimage{cG}\addlegendentry{Male-female Interaction}
\end{axis}
%% colorbar
\begin{axis}[at={(213pt,402pt)},anchor=south west,scale only axis,width=197pt,height=11pt,hide axis,xmin=0,xmax=1,ymin=0,ymax=1,point meta min=0,point meta max=1,colormap name=rb,
 colorbar horizontal,colorbar sampled,colorbar style={samples=61,at={(parent axis.south west)},anchor=south west,scale only axis,width=197pt,height=11pt,xtick={0,.2,.4,.6,.8,1},xticklabels={0,0.2,0.4,0.6,0.8,1},major tick length=0pt,tick label style={font=\fontsize{11}{11}\selectfont,text=tx},axis line style={draw=none}}]
\addplot[draw=none,forget plot] coordinates {(0,0)};
\end{axis}
%% text
\node[font=\fontsize{14}{14}\selectfont,text=tx] at (305,411) {\textit{r}\textsuperscript{2}};
\def\pl#1#2#3{\node[anchor=west,font=\bfseries\fontsize{12}{12}\selectfont,text=tx] at (#1,#2) {#3};}
\pl{1}{770}{(a)}\pl{353}{770}{(b)}\pl{1}{326}{(c)}\pl{353}{326}{(d)}
\def\cl#1#2#3{\node[rotate=45,font=\itshape\fontsize{10}{10}\selectfont,text=tx] at (#1,#2) {#3};}
\cl{45}{532}{X}\cl{62}{514}{2L}\cl{80}{496}{2R}\cl{109}{468}{3L}\cl{132}{445}{3R}
\cl{381}{538}{X}\cl{408}{507}{2L}\cl{447}{469}{2R}\cl{462}{456}{3L}\cl{477}{438}{3R}
\cl{40}{102}{X}\cl{67}{72}{2L}\cl{96}{39}{2R}\cl{113}{24}{3L}\cl{128}{9}{3R}
\cl{385}{101}{X}\cl{407}{75}{2L}\cl{440}{41}{2R}\cl{457}{24}{3L}\cl{473}{8}{3R}
\end{tikzpicture}
\end{document}
